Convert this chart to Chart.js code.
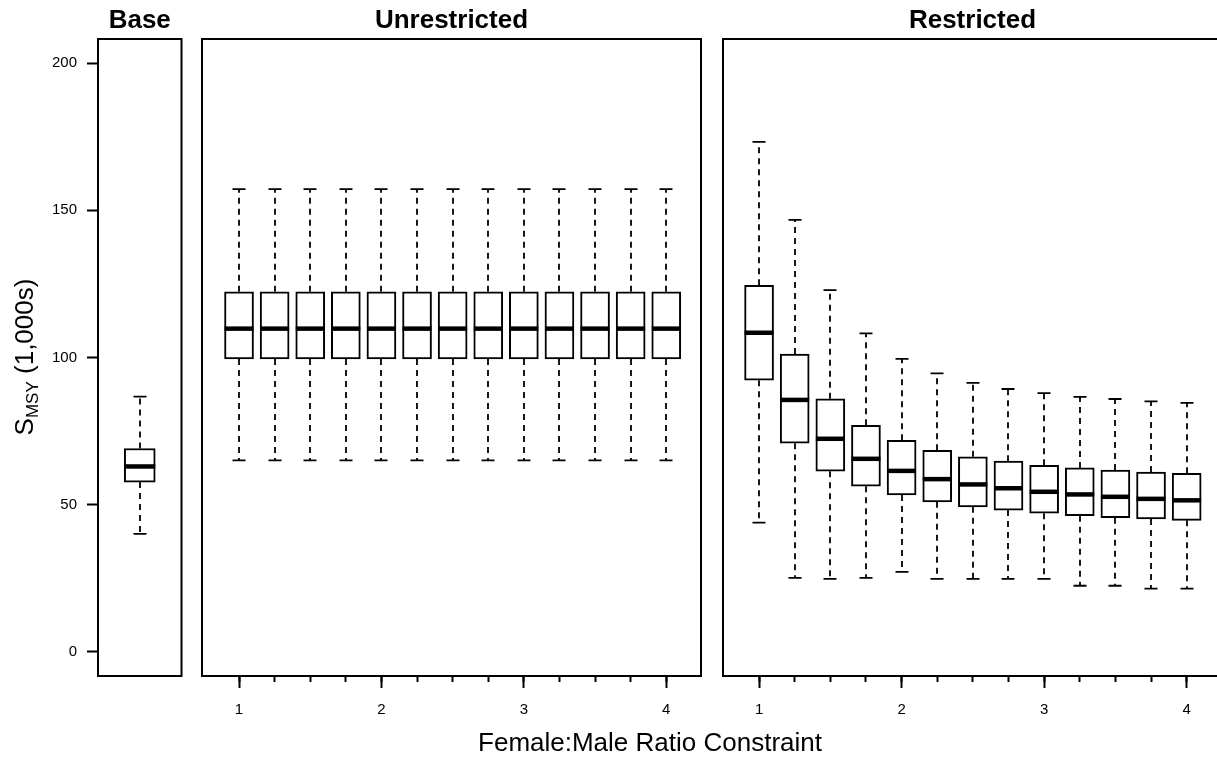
<!DOCTYPE html>
<html>
<head>
<meta charset="utf-8">
<script src="https://cdn.jsdelivr.net/npm/chart.js@4.4.1/dist/chart.umd.min.js"></script>
<style>
  html, body { margin: 0; padding: 0; background: #fff; overflow: hidden; width: 1217px; height: 759px; }
  canvas { position: absolute; left: 0; top: 0; }
</style>
</head>
<body>
<canvas id="base" width="1222" height="759"></canvas>
<canvas id="unres" width="1222" height="759"></canvas>
<canvas id="res" width="1222" height="759"></canvas>
<script>
// data (values in 1,000s)
const ratioTicks = [1, 1.25, 1.5, 1.75, 2, 2.25, 2.5, 2.75, 3, 3.25, 3.5, 3.75, 4];
const ratioLabels = [1, 2, 3, 4];
const yTicks = [0, 50, 100, 150, 200];

const baseX = [1];
const baseLo = [40.1];
const baseQ1 = [57.7];
const baseMed = [63.0];
const baseQ3 = [69.1];
const baseHi = [86.7];

const unresLo = [65.1, 65.1, 65.1, 65.1, 65.1, 65.1, 65.1, 65.1, 65.1, 65.1, 65.1, 65.1, 65.1];
const unresQ1 = [99.5, 99.5, 99.5, 99.5, 99.5, 99.5, 99.5, 99.5, 99.5, 99.5, 99.5, 99.5, 99.5];
const unresMed = [109.8, 109.8, 109.8, 109.8, 109.8, 109.8, 109.8, 109.8, 109.8, 109.8, 109.8, 109.8, 109.8];
const unresQ3 = [122.3, 122.3, 122.3, 122.3, 122.3, 122.3, 122.3, 122.3, 122.3, 122.3, 122.3, 122.3, 122.3];
const unresHi = [157.2, 157.2, 157.2, 157.2, 157.2, 157.2, 157.2, 157.2, 157.2, 157.2, 157.2, 157.2, 157.2];

const resLo = [43.9, 25.2, 24.8, 25.2, 27.2, 24.8, 24.8, 24.8, 24.8, 22.5, 22.5, 21.5, 21.5];
const resQ1 = [92.3, 70.9, 61.4, 56.3, 53.3, 51.0, 49.3, 48.2, 47.1, 46.3, 45.6, 45.2, 44.7];
const resMed = [108.4, 85.6, 72.4, 65.6, 61.5, 58.7, 56.9, 55.6, 54.4, 53.5, 52.7, 52.0, 51.5];
const resQ3 = [124.5, 101.2, 86.0, 77.0, 71.9, 68.5, 66.3, 64.8, 63.4, 62.5, 61.8, 61.1, 60.7];
const resHi = [173.2, 146.7, 122.9, 108.2, 99.5, 94.6, 91.4, 89.3, 87.9, 86.6, 85.9, 85.1, 84.6];

const FONT = "'Liberation Sans', Arial, Helvetica, sans-serif";
const W = 1222;
const Y_MIN = -8.15, Y_MAX = 208.15;

// whiskers, caps and medians, placed through the chart scales
function boxPlugin(xs, lo, q1, med, q3, hi, boxW) {
  return {
    id: 'boxplot',
    beforeDatasetsDraw(chart) {
      const { ctx, scales: { x, y } } = chart;
      ctx.save();
      ctx.strokeStyle = '#000';
      ctx.lineWidth = 1.8;
      xs.forEach((v, i) => {
        const px = Math.round(x.getPixelForValue(v));
        ctx.setLineDash([6, 5]);
        ctx.beginPath();
        ctx.moveTo(px, y.getPixelForValue(q3[i]));
        ctx.lineTo(px, y.getPixelForValue(hi[i]));
        ctx.moveTo(px, y.getPixelForValue(q1[i]));
        ctx.lineTo(px, y.getPixelForValue(lo[i]));
        ctx.stroke();
        ctx.setLineDash([]);
        ctx.beginPath();
        [hi[i], lo[i]].forEach(w => {
          const py = y.getPixelForValue(w);
          ctx.moveTo(px - 6.5, py);
          ctx.lineTo(px + 6.5, py);
        });
        ctx.stroke();
      });
      ctx.restore();
    },
    afterDatasetsDraw(chart) {
      const { ctx, scales: { x, y } } = chart;
      ctx.save();
      ctx.strokeStyle = '#000';
      ctx.lineWidth = 4.5;
      xs.forEach((v, i) => {
        const px = x.getPixelForValue(v);
        const py = y.getPixelForValue(med[i]);
        ctx.beginPath();
        ctx.moveTo(px - boxW / 2, py);
        ctx.lineTo(px + boxW / 2, py);
        ctx.stroke();
      });
      ctx.restore();
    }
  };
}

function framePlugin(title) {
  return {
    id: 'frame',
    afterDraw(chart) {
      const { ctx, chartArea: a } = chart;
      ctx.save();
      ctx.strokeStyle = '#000';
      ctx.lineWidth = 2;
      ctx.strokeRect(a.left, a.top, a.right - a.left, a.bottom - a.top);
      ctx.fillStyle = '#000';
      ctx.font = 'bold 26px ' + FONT;
      ctx.textAlign = 'center';
      ctx.textBaseline = 'middle';
      ctx.fillText(title, (a.left + a.right) / 2, 21);
      ctx.restore();
    }
  };
}

const axisTitles = {
  id: 'axisTitles',
  afterDraw(chart) {
    const ctx = chart.ctx;
    ctx.save();
    ctx.fillStyle = '#000';
    ctx.textBaseline = 'alphabetic';
    ctx.textAlign = 'center';
    ctx.font = '26px ' + FONT;
    ctx.fillText('Female:Male Ratio Constraint', 650, 751);

    ctx.translate(33, 357);
    ctx.rotate(-Math.PI / 2);
    ctx.textAlign = 'left';
    const big = '26px ' + FONT, small = '17px ' + FONT;
    ctx.font = big; const wS = ctx.measureText('S').width;
    ctx.font = small; const wSub = ctx.measureText('MSY').width;
    ctx.font = big; const wRest = ctx.measureText(' (1,000s)').width;
    let cx = -(wS + wSub + wRest) / 2;
    ctx.font = big; ctx.fillText('S', cx, 0); cx += wS;
    ctx.font = small; ctx.fillText('MSY', cx, 5); cx += wSub;
    ctx.font = big; ctx.fillText(' (1,000s)', cx, 0);
    ctx.restore();
  }
};

function boxDataset(xs, q1, q3, boxW) {
  return {
    data: xs.map((v, i) => ({ x: v, y: [q1[i], q3[i]] })),
    backgroundColor: '#fff',
    borderColor: '#000',
    borderWidth: 2,
    borderSkipped: false,
    barThickness: boxW,
  };
}

const yHidden = { type: 'linear', display: false, min: Y_MIN, max: Y_MAX };

function ratioAxes(xMin, xMax) {
  return {
    x: {
      type: 'linear', min: xMin, max: xMax, offset: false, weight: 1,
      afterBuildTicks: ax => { ax.ticks = ratioLabels.map(v => ({ value: v })); },
      afterFit: ax => { ax.height = 83; },
      grid: { offset: false, drawOnChartArea: false, drawTicks: true, tickLength: 12, tickColor: '#000', tickWidth: 2 },
      border: { display: false },
      ticks: { color: '#000', font: { family: FONT, size: 15 }, padding: 13, maxRotation: 0, callback: v => String(v) }
    },
    xm: {
      type: 'linear', min: xMin, max: xMax, offset: false, weight: 0, position: 'bottom',
      afterBuildTicks: ax => { ax.ticks = ratioTicks.map(v => ({ value: v })); },
      afterFit: ax => { ax.height = 0; },
      grid: { offset: false, drawOnChartArea: false, drawTicks: true, tickLength: 6, tickColor: '#000', tickWidth: 2 },
      border: { display: false },
      ticks: { display: false }
    },
    y: yHidden
  };
}

const common = {
  responsive: false,
  animation: false,
  devicePixelRatio: 1,
  plugins: { legend: { display: false }, tooltip: { enabled: false } }
};

new Chart(document.getElementById('base'), {
  type: 'bar',
  data: { datasets: [boxDataset(baseX, baseQ1, baseQ3, 31)] },
  options: {
    ...common,
    layout: { padding: { left: 0, top: 39, right: W - 181.5, bottom: 0 } },
    scales: {
      x: {
        type: 'linear', min: 0.5, max: 1.5, offset: false,
        afterFit: ax => { ax.height = 83; },
        grid: { display: false }, border: { display: false }, ticks: { display: false }
      },
      y: {
        type: 'linear', min: Y_MIN, max: Y_MAX,
        afterBuildTicks: ax => { ax.ticks = yTicks.map(v => ({ value: v })); },
        afterFit: ax => { ax.width = 98; },
        grid: { drawOnChartArea: false, drawTicks: true, tickLength: 11, tickColor: '#000', tickWidth: 2 },
        border: { display: false },
        ticks: { color: '#000', font: { family: FONT, size: 15 }, padding: 10, callback: v => String(v) }
      }
    }
  },
  plugins: [boxPlugin(baseX, baseLo, baseQ1, baseMed, baseQ3, baseHi, 31), framePlugin('Base'), axisTitles]
});

new Chart(document.getElementById('unres'), {
  type: 'bar',
  data: { datasets: [boxDataset(ratioTicks, unresQ1, unresQ3, 29)] },
  options: {
    ...common,
    layout: { padding: { left: 202, top: 39, right: W - 701, bottom: 0 } },
    scales: ratioAxes(0.74, 4.244)
  },
  plugins: [boxPlugin(ratioTicks, unresLo, unresQ1, unresMed, unresQ3, unresHi, 29), framePlugin('Unrestricted')]
});

new Chart(document.getElementById('res'), {
  type: 'bar',
  data: { datasets: [boxDataset(ratioTicks, resQ1, resQ3, 29)] },
  options: {
    ...common,
    layout: { padding: { left: 723, top: 39, right: 0, bottom: 0 } },
    scales: ratioAxes(0.747, 4.0 + (1222 - 1186.7) / 142.4)
  },
  plugins: [boxPlugin(ratioTicks, resLo, resQ1, resMed, resQ3, resHi, 29), framePlugin('Restricted')]
});
</script>
</body>
</html>
